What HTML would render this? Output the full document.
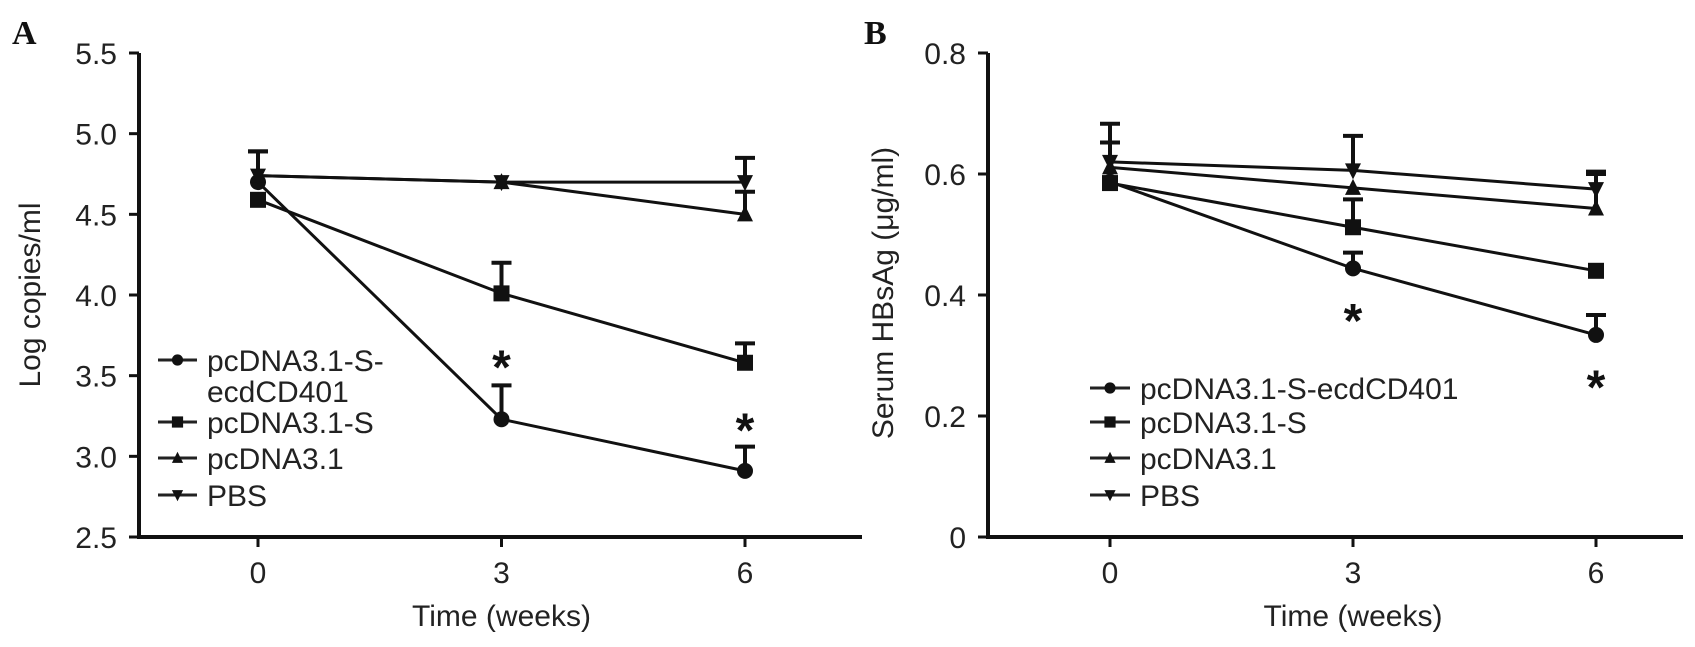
<!DOCTYPE html>
<html><head><meta charset="utf-8"><style>
body{margin:0;background:#fff}
svg{display:block;font-family:"Liberation Sans",sans-serif}
</style></head><body>
<svg id="fig" width="1695" height="647" viewBox="0 0 1695 647"></svg>
<script>
const weeks=[0,3,6];
const xTickLabels=["0","3","6"];
const seriesNames=["pcDNA3.1-S-ecdCD401","pcDNA3.1-S","pcDNA3.1","PBS"];
const markers=["circle","square","triangle","tridown"];
// Panel A: log copies/ml
const aTicks=[2.5,3.0,3.5,4.0,4.5,5.0,5.5];
const aCircle=[4.70,3.23,2.91];const aCircleErr=[0.19,0.21,0.15];
const aSquare=[4.59,4.01,3.58];const aSquareErr=[0.0,0.19,0.12];
const aTri=[4.74,4.70,4.50];const aTriErr=[0.0,0.0,0.14];
const aPbs=[4.74,4.70,4.70];const aPbsErr=[0.15,0.0,0.15];
const aStars=[[3,3.60],[6,3.21]];
// Panel B: serum HBsAg
const bTicks=[0,0.2,0.4,0.6,0.8];
const bTickLabels=["0","0.2","0.4","0.6","0.8"];
const bCircle=[0.587,0.444,0.334];const bCircleErr=[0.0,0.026,0.033];
const bSquare=[0.585,0.512,0.440];const bSquareErr=[0.0,0.046,0.0];
const bTri=[0.611,0.577,0.543];const bTriErr=[0.041,0.0,0.057];
const bPbs=[0.620,0.606,0.575];const bPbsErr=[0.063,0.057,0.029];
const bStars=[[3,0.37],[6,0.26]];

const NS="http://www.w3.org/2000/svg";
const svg=document.getElementById('fig');
function mk(tag,attrs,parent){const e=document.createElementNS(NS,tag);for(const k in attrs)e.setAttribute(k,attrs[k]);(parent||svg).appendChild(e);return e;}
function marker(g,type,x,y,s){
  s=s||1;let e;
  if(type==="circle")e=mk('circle',{cx:x,cy:y,r:8*s,fill:'#111'},g);
  else if(type==="square")e=mk('rect',{x:x-8*s,y:y-8*s,width:16*s,height:16*s,fill:'#111'},g);
  else if(type==="triangle")e=mk('polygon',{points:`${x},${y-9*s} ${x-8*s},${y+7*s} ${x+8*s},${y+7*s}`,fill:'#111'},g);
  else e=mk('polygon',{points:`${x},${y+9*s} ${x-8*s},${y-7*s} ${x+8*s},${y-7*s}`,fill:'#111'},g);
  return e;
}
const FS=30;
function panel(o){
  const xs=w=>o.x0+(w-0)/6*(o.x6-o.x0);
  const ys=v=>o.yb+(v-o.vmin)/(o.vmax-o.vmin)*(o.yt-o.yb);
  const g=mk('g',{});
  
  
  const ax=mk('path',{d:`M${o.ax},${ys(o.vmax)}V${o.yb}H${o.xend}`,stroke:'#111','stroke-width':4,fill:'none'},g);
  
  
  o.ticks.forEach((t,i)=>{
    mk('line',{x1:o.ax-10,x2:o.ax,y1:ys(t),y2:ys(t),stroke:'#111','stroke-width':3},g);
    const tx=mk('text',{x:o.ax-22,y:ys(t)+11,'text-anchor':'end','font-size':FS,fill:'#222'},g);
    tx.textContent=o.tickLabels[i];
    
    
  });
  weeks.forEach((w,i)=>{
    mk('line',{x1:xs(w),x2:xs(w),y1:o.yb,y2:o.yb+10,stroke:'#111','stroke-width':3},g);
    const tx=mk('text',{x:xs(w),y:583,'text-anchor':'middle','font-size':FS,fill:'#222'},g);
    tx.textContent=xTickLabels[i];
    
    
  });
  const xt=mk('text',{x:xs(3),y:626,'text-anchor':'middle','font-size':FS,fill:'#222'},g);
  xt.textContent="Time (weeks)";
  
  
  const yt=mk('text',{x:0,y:0,'text-anchor':'middle','font-size':FS,fill:'#222',transform:`translate(${o.ytx},${o.yty}) rotate(-90)`},g);
  yt.textContent=o.ytitle;
  
  
  const pl=mk('text',{x:o.plx,y:44,'font-size':34,'font-weight':'bold','font-family':'Liberation Serif, serif',fill:'#111'},g);
  pl.textContent=o.label;
  
  
  o.series.forEach((s,si)=>{
    const sg=mk('g',{},g);
    
    
    mk('polyline',{points:weeks.map((w,i)=>xs(w)+','+ys(s.v[i])).join(' '),stroke:'#111','stroke-width':3,fill:'none'},sg);
    weeks.forEach((w,i)=>{
      if(s.e[i]>0){
        const top=ys(s.v[i]+s.e[i]);
        mk('line',{x1:xs(w),x2:xs(w),y1:ys(s.v[i]),y2:top,stroke:'#111','stroke-width':4},sg);
        mk('line',{x1:xs(w)-10,x2:xs(w)+10,y1:top,y2:top,stroke:'#111','stroke-width':4},sg);
      }
      const m=marker(sg,markers[si],xs(w),ys(s.v[i]));
      
      
    });
  });
  o.stars.forEach(st=>{
    const t=mk('text',{x:xs(st[0]),y:ys(st[1])+24,'text-anchor':'middle','font-size':48,'font-weight':'bold',fill:'#111'},g);
    t.textContent="*";
    
    
  });
  const lg=mk('g',{},g);
  
  
  o.legend.forEach((it,i)=>{
    const e=mk('g',{},lg);
    
    
    mk('line',{x1:o.lx1,x2:o.lx2,y1:it.y,y2:it.y,stroke:'#222','stroke-width':3},e);
    marker(e,markers[it.m],(o.lx1+o.lx2)/2,it.y,0.7);
    it.lines.forEach((ln,k)=>{
      const t=mk('text',{x:o.lx2+10,y:it.y+11+k*31,'font-size':FS,fill:'#222'},e);
      t.textContent=ln;
    });
  });
}
panel({id:'panel-a',label:'A',plx:12,ax:139,x0:258,x6:745,xend:862,yb:537,yt:53,vmin:2.5,vmax:5.5,
  ticks:aTicks,tickLabels:aTicks.map(t=>t.toFixed(1)),ytitle:'Log copies/ml',ytx:40,yty:295,
  series:[{v:aCircle,e:aCircleErr},{v:aSquare,e:aSquareErr},{v:aTri,e:aTriErr},{v:aPbs,e:aPbsErr}],
  stars:aStars,lx1:158,lx2:197,
  legend:[{m:0,y:360,lines:["pcDNA3.1-S-","ecdCD401"]},{m:1,y:422,lines:[seriesNames[1]]},{m:2,y:458,lines:[seriesNames[2]]},{m:3,y:495,lines:[seriesNames[3]]}]});
panel({id:'panel-b',label:'B',plx:864,ax:988,x0:1110,x6:1596,xend:1683,yb:537,yt:53,vmin:0,vmax:0.8,
  ticks:bTicks,tickLabels:bTickLabels,ytitle:'Serum HBsAg (\u03bcg/ml)',ytx:893,yty:293,
  series:[{v:bCircle,e:bCircleErr},{v:bSquare,e:bSquareErr},{v:bTri,e:bTriErr},{v:bPbs,e:bPbsErr}],
  stars:bStars,lx1:1090,lx2:1130,
  legend:[{m:0,y:388,lines:[seriesNames[0]]},{m:1,y:422,lines:[seriesNames[1]]},{m:2,y:458,lines:[seriesNames[2]]},{m:3,y:495,lines:[seriesNames[3]]}]});
</script>
</body></html>
